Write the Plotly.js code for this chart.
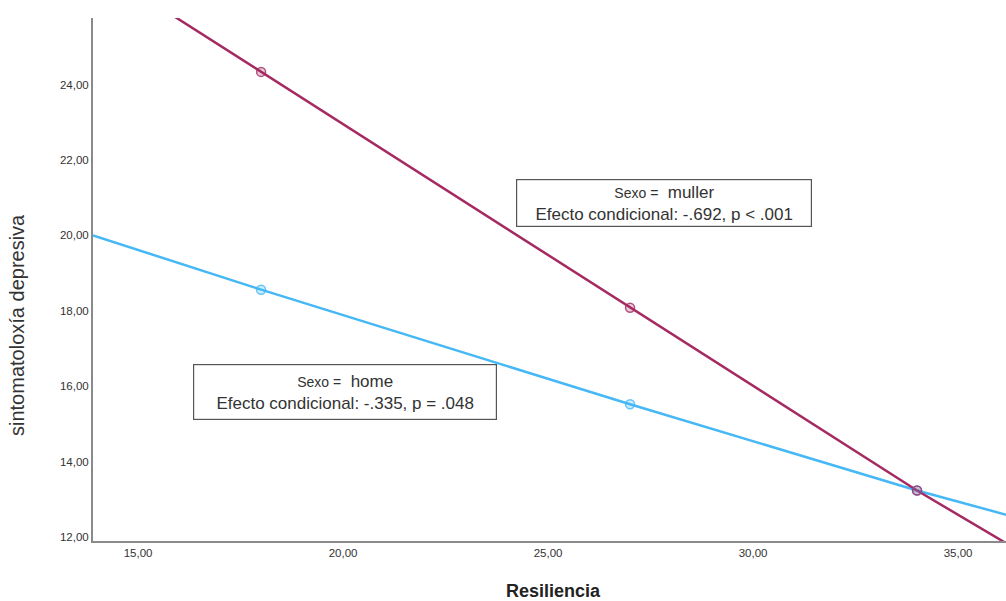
<!DOCTYPE html>
<html>
<head>
<meta charset="utf-8">
<script src="https://cdn.plot.ly/plotly-3.0.1.min.js"></script>
<style>html,body{margin:0;padding:0;background:#fff;}#chart{width:1006px;height:601px;}</style>
</head>
<body>
<div id="chart"></div>
<script>
// Fitted lines (endpoints and marker points)
const mullerLineX = [15.9, 18, 27, 34, 36.3];
const mullerLineY = [25.8, 24.34, 18.08, 13.23, 11.75];
const homeLineX = [13.9, 18, 27, 34, 36.3];
const homeLineY = [20.0, 18.56, 15.52, 13.23, 12.55];
const pointX = [18, 27, 34];
const mullerPointY = [24.34, 18.08, 13.23];
const homePointY = [18.56, 15.52, 13.23];

const xTickVals = [15, 20, 25, 30, 35];
const xTickText = ['15,00', '20,00', '25,00', '30,00', '35,00'];
const yTickVals = [12, 14, 16, 18, 20, 22, 24];
const yTickText = ['12,00', '14,00', '16,00', '18,00', '20,00', '22,00', '24,00'];

const xTitle = 'Resiliencia';
const yTitle = 'sintomatoloxía depresiva';

const mullerColor = '#a52a62';
const homeColor = '#45b8f5';

const traces = [
  {x: homeLineX, y: homeLineY, mode: 'lines', line: {color: homeColor, width: 2.5}, hoverinfo: 'skip'},
  {x: mullerLineX, y: mullerLineY, mode: 'lines', line: {color: mullerColor, width: 2.5}, hoverinfo: 'skip'},
  {x: pointX, y: homePointY, mode: 'markers', marker: {color: 'rgba(69,184,245,0.25)', size: 9, line: {color: 'rgba(69,184,245,0.8)', width: 1.5}}, cliponaxis: false},
  {x: pointX, y: mullerPointY, mode: 'markers', marker: {color: 'rgba(165,42,98,0.25)', size: 9, line: {color: 'rgba(165,42,98,0.8)', width: 1.5}}, cliponaxis: false}
];

const layout = {
  width: 1006, height: 601,
  margin: {l: 93, r: 0, t: 18, b: 60},
  paper_bgcolor: '#fff', plot_bgcolor: '#fff',
  showlegend: false,
  font: {family: 'Liberation Sans, Arial, sans-serif', color: '#333'},
  xaxis: {
    range: [13.9, 36.17], showgrid: false, zeroline: false,
    tickvals: xTickVals, ticktext: xTickText, ticks: '', tickfont: {size: 11.5, color: '#333'},
    showline: true, linecolor: '#8a8a8a', linewidth: 2, mirror: false
  },
  yaxis: {
    range: [11.89, 25.77], showgrid: false, zeroline: false,
    tickvals: yTickVals, ticktext: yTickText, ticks: '', tickfont: {size: 11.5, color: '#333'},
    showline: true, linecolor: '#8a8a8a', linewidth: 2
  },
  annotations: [
    {x: 27.83, y: 20.87, xref: 'x', yref: 'y', showarrow: false,
     text: '<span style="font-size:14px">Sexo =</span>  muller<br>Efecto condicional: -.692, p < .001',
     font: {size: 17, color: '#333'}, align: 'center',
     bordercolor: '#555', borderwidth: 1.2, borderpad: 2, bgcolor: '#fff', width: 290, height: 42},
    {x: 20.05, y: 15.84, xref: 'x', yref: 'y', showarrow: false,
     text: '<span style="font-size:14px">Sexo =</span>  home<br>Efecto condicional: -.335, p = .048',
     font: {size: 17, color: '#333'}, align: 'center',
     bordercolor: '#555', borderwidth: 1.2, borderpad: 2, bgcolor: '#fff', width: 298, height: 50},
    {x: 553, y: 591, xref: 'paper', yref: 'paper', showarrow: false, xanchor: 'center', yanchor: 'middle',
     text: '<b>' + xTitle + '</b>', font: {size: 18, color: '#222'}},
    {x: 17, y: 325, xref: 'paper', yref: 'paper', showarrow: false, textangle: -90, xanchor: 'center', yanchor: 'middle',
     text: yTitle, font: {size: 20, color: '#333'}}
  ]
};

// convert pixel positions for title annotations into paper coords
const pw = 1006 - 93, ph = 601 - 18 - 60;
layout.annotations[2].x = (553 - 93) / pw; layout.annotations[2].y = (601 - 60 - 591) / ph;
layout.annotations[3].x = (17 - 93) / pw; layout.annotations[3].y = (601 - 60 - 325) / ph;

Plotly.newPlot('chart', traces, layout, {displayModeBar: false, staticPlot: true});
</script>
</body>
</html>
